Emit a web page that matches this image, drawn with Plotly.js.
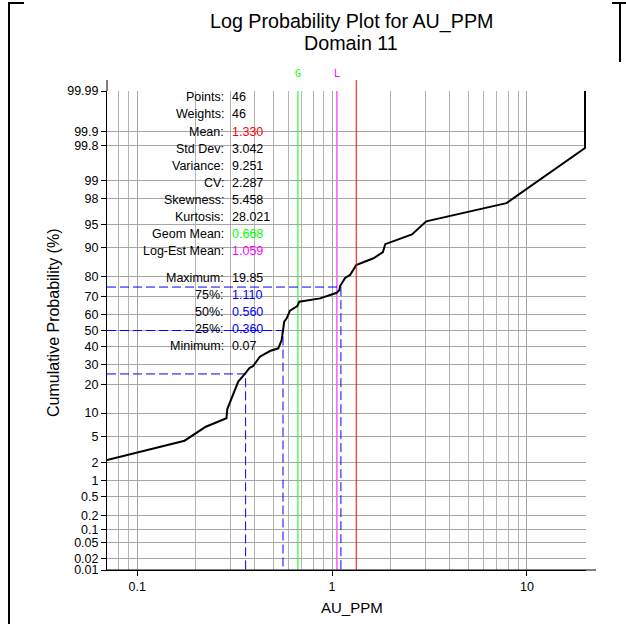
<!DOCTYPE html>
<html>
<head>
<meta charset="utf-8">
<script src="https://cdn.plot.ly/plotly-3.0.1.min.js"></script>
<style>html,body{margin:0;padding:0;background:#fff;}#chart{width:626px;height:624px;}</style>
</head>
<body>
<div id="chart"></div>
<script>
// ---- data ----
const au_ppm = [0.07,0.175,0.225,0.287,0.290,0.324,0.330,0.357,0.376,0.394,0.410,0.426,0.480,0.530,0.551,0.562,0.568,0.585,0.608,0.663,0.679,0.868,1.057,1.090,1.100,1.166,1.237,1.329,1.631,1.823,1.873,2.570,3.043,7.846,19.85,19.85];
const cum_prob = [2.22,4.35,6.76,8.64,11.14,19.14,21.4,25.0,27.9,29.1,31.4,34.2,37.5,39.1,44.1,50.3,55.4,57.5,62.1,64.8,67.3,69.1,72.1,73.5,75.5,79.3,80.6,84.5,86.9,88.8,91.0,93.2,95.5,97.6,99.77,99.99];

const prob_ticks = [99.99,99.9,99.8,99,98,95,90,80,70,60,50,40,30,20,10,5,2,1,0.5,0.2,0.1,0.05,0.02,0.01];
const x_ticks = [0.1,1,10];
const x_minor_grid = [0.08,0.09,0.2,0.3,0.4,0.5,0.6,0.7,0.8,0.9,2,3,4,5,6,7,8,9];

const quant_pct = [25,50,75];
const quant_val = [0.360,0.560,1.110];

const stat_names = ['Points','Weights','Mean','Std Dev','Variance','CV','Skewness','Kurtosis','Geom Mean','Log-Est Mean','Maximum','75%','50%','25%','Minimum'];
const stat_values = ['46','46','1.330','3.042','9.251','2.287','5.458','28.021','0.668','1.059','19.85','1.110','0.560','0.360','0.07'];
const stat_colors = ['#000','#000','#ff0000','#000','#000','#000','#000','#000','#00ff00','#ff00ff','#000','#0000ff','#0000ff','#0000ff','#000'];

const title_lines = ['Log Probability Plot for AU_PPM','Domain 11'];
const mean_val = 1.330, geom_mean = 0.668, logest_mean = 1.059;
const x_min = 0.07, x_max = 19.85;

// ---- inverse normal CDF (Acklam) ----
function probit(p){
  const a=[-3.969683028665376e+01,2.209460984245205e+02,-2.759285104469687e+02,1.383577518672690e+02,-3.066479806614716e+01,2.506628277459239e+00];
  const b=[-5.447609879822406e+01,1.615858368580409e+02,-1.556989798598866e+02,6.680131188771972e+01,-1.328068155288572e+01];
  const c=[-7.784894002430293e-03,-3.223964580411365e-01,-2.400758277161838e+00,-2.549732539343734e+00,4.374664141464968e+00,2.938163982698783e+00];
  const d=[7.784695709041462e-03,3.224671290700398e-01,2.445134137142996e+00,3.754408661907416e+00];
  const pl=0.02425, ph=1-pl; let q,r;
  if(p<pl){q=Math.sqrt(-2*Math.log(p));return (((((c[0]*q+c[1])*q+c[2])*q+c[3])*q+c[4])*q+c[5])/((((d[0]*q+d[1])*q+d[2])*q+d[3])*q+1);}
  if(p<=ph){q=p-0.5;r=q*q;return (((((a[0]*r+a[1])*r+a[2])*r+a[3])*r+a[4])*r+a[5])*q/(((((b[0]*r+b[1])*r+b[2])*r+b[3])*r+b[4])*r+1);}
  q=Math.sqrt(-2*Math.log(1-p));return -(((((c[0]*q+c[1])*q+c[2])*q+c[3])*q+c[4])*q+c[5])/((((d[0]*q+d[1])*q+d[2])*q+d[3])*q+1);
}
const Z = pct => probit(pct/100);

// pixel -> paper helpers (plot area 107..586 x 91..570)
const PL=107, PR=586, PT=91, PB=570;
const px = v => (v-PL)/(PR-PL);
const py = v => (PB-v)/(PB-PT);

const FONT = 'Arial, "Liberation Sans", sans-serif';
const yMin = Z(0.01), yMax = Z(99.99);

const traces = [];
quant_pct.forEach((p,i)=>{
  traces.push({
    x:[x_min, quant_val[i], quant_val[i]],
    y:[Z(p), Z(p), yMin],
    mode:'lines', line:{color:'#0000ff', width:1, dash:'9px,4px'},
    hoverinfo:'skip', showlegend:false
  });
});
traces.push({
  x: au_ppm, y: cum_prob.map(Z),
  mode:'lines', line:{color:'#000', width:2},
  hoverinfo:'skip', showlegend:false
});

const shapes = [
  {type:'line', xref:'x', yref:'paper', x0:geom_mean, x1:geom_mean, y0:0, y1:1, line:{color:'#00ff00', width:1}, layer:'below'},
  {type:'line', xref:'x', yref:'paper', x0:logest_mean, x1:logest_mean, y0:0, y1:1, line:{color:'#ff00ff', width:1}, layer:'below'},
  {type:'line', xref:'x', yref:'paper', x0:mean_val, x1:mean_val, y0:0, y1:py(80), line:{color:'#ff0000', width:1}},
  {type:'line', xref:'paper', yref:'paper', x0:0, x1:px(596), y0:0, y1:0, line:{color:'#000', width:1}},
  {type:'line', xref:'paper', yref:'paper', x0:0, x1:0, y0:1, y1:py(80), line:{color:'#000', width:1}},
  {type:'line', xref:'paper', yref:'paper', x0:px(9), x1:px(9), y0:py(2), y1:py(624), line:{color:'#000', width:2}},
  {type:'line', xref:'paper', yref:'paper', x0:px(8), x1:px(24), y0:py(3), y1:py(3), line:{color:'#000', width:2}},
  {type:'line', xref:'paper', yref:'paper', x0:px(612), x1:px(626), y0:py(3), y1:py(3), line:{color:'#000', width:2}},
  {type:'line', xref:'paper', yref:'paper', x0:px(620), x1:px(620), y0:py(3), y1:py(62), line:{color:'#000', width:2}}
];

const annotations = [];
title_lines.forEach((t,i)=>{
  annotations.push({xref:'paper', yref:'paper', x:px(351), y:py(21+22.5*i), text:t, showarrow:false, xanchor:'center', yanchor:'middle', font:{family:FONT, size:19.7, color:'#000'}});
});
stat_names.forEach((n,i)=>{
  const yy = i<10 ? 97.3+17.1*i : 277.7+17.1*(i-10);
  annotations.push({xref:'paper', yref:'paper', x:px(225), y:py(yy), xanchor:'right', yanchor:'middle', text:n+':', showarrow:false, font:{family:FONT, size:12.5, color:'#000'}, borderpad:0});
  annotations.push({xref:'paper', yref:'paper', x:px(231), y:py(yy), xanchor:'left', yanchor:'middle', text:stat_values[i], showarrow:false, font:{family:FONT, size:12.5, color:stat_colors[i]}, borderpad:0});
});
annotations.push({xref:'x', yref:'paper', x:Math.log10(geom_mean), y:py(73), text:'G', showarrow:false, xanchor:'center', yanchor:'middle', font:{family:'"DejaVu Sans Mono", monospace', size:10, color:'#00ff00'}});
annotations.push({xref:'x', yref:'paper', x:Math.log10(logest_mean), y:py(73), text:'L', showarrow:false, xanchor:'center', yanchor:'middle', font:{family:'"DejaVu Sans Mono", monospace', size:10, color:'#ff00ff'}});
annotations.push({xref:'paper', yref:'paper', x:px(53), y:py(323), text:'Cumulative Probability (%)', textangle:-90, showarrow:false, xanchor:'center', yanchor:'middle', font:{family:FONT, size:16, color:'#000'}});
annotations.push({xref:'paper', yref:'paper', x:px(352), y:py(607), text:'AU_PPM', showarrow:false, xanchor:'center', yanchor:'middle', font:{family:FONT, size:15, color:'#000'}});

const layout = {
  width:626, height:624,
  margin:{l:PL, r:626-PR, t:PT, b:624-PB, pad:0},
  paper_bgcolor:'#fff', plot_bgcolor:'#fff',
  showlegend:false,
  font:{family:FONT, size:12, color:'#000'},
  xaxis:{
    type:'log', range:[Math.log10(x_min), Math.log10(x_max)+1/194.5],
    tickmode:'array', tickvals:x_ticks, ticktext:x_ticks.map(String),
    ticks:'outside', ticklen:5, tickcolor:'#000', tickfont:{size:12.5},
    showline:true, linecolor:'#000', linewidth:1,
    showgrid:true, gridcolor:'#a6a6a6', gridwidth:1, zeroline:false,
    minor:{tickmode:'array', tickvals:x_minor_grid, showgrid:true, gridcolor:'#b4b4b4', gridwidth:1, ticks:''}
  },
  yaxis:{
    range:[yMin, yMax],
    tickmode:'array', tickvals:prob_ticks.map(Z), ticktext:prob_ticks.map(String),
    ticks:'outside', ticklen:5, tickcolor:'#000', tickfont:{size:12.5},
    showline:true, linecolor:'#000', linewidth:1,
    showgrid:true, gridcolor:'#a6a6a6', gridwidth:1, zeroline:false
  },
  shapes: shapes,
  annotations: annotations
};

Plotly.newPlot('chart', traces, layout, {staticPlot:true, displayModeBar:false});
</script>
</body>
</html>
